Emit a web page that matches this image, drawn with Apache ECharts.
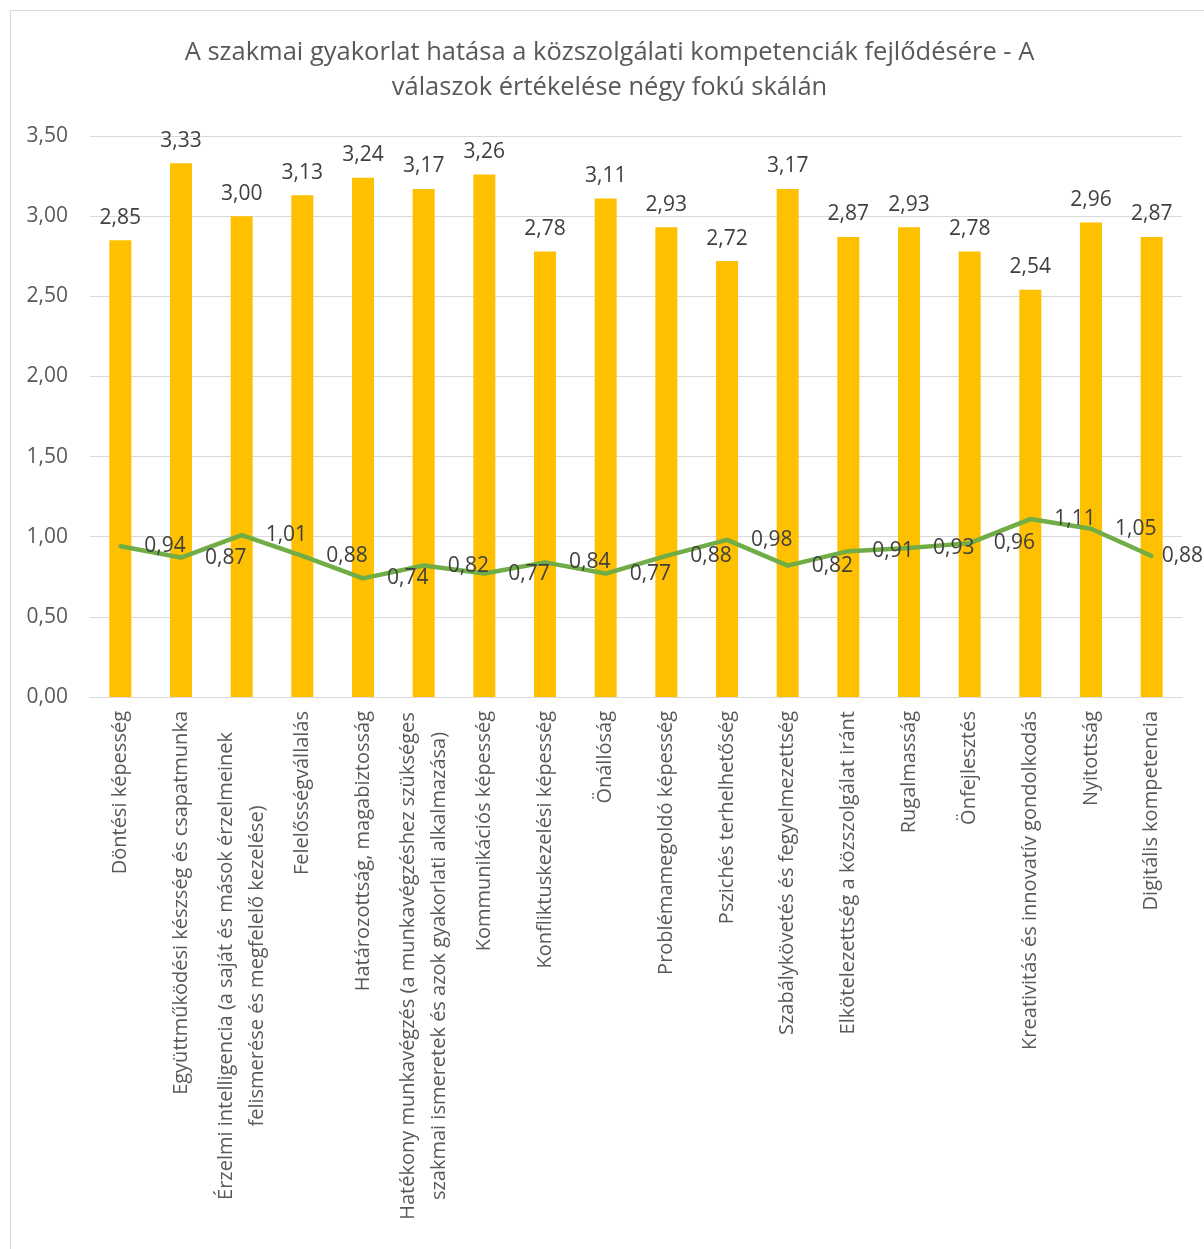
<!DOCTYPE html>
<html><head><meta charset="utf-8">
<script src="https://cdn.jsdelivr.net/npm/echarts@6/dist/echarts.min.js"></script>
<style>html,body{margin:0;padding:0;background:#fff}#c{width:1204px;height:1249px}</style>
</head><body><div id="c"></div>
<script>
const titleText = 'A szakmai gyakorlat hatása a közszolgálati kompetenciák fejlődésére - A\nválaszok értékelése négy fokú skálán';
const categories = [
  'Döntési képesség',
  'Együttműködési készség és csapatmunka',
  'Érzelmi intelligencia (a saját és mások érzelmeinek\nfelismerése és megfelelő kezelése)',
  'Felelősségvállalás',
  'Határozottság, magabiztosság',
  'Hatékony munkavégzés (a munkavégzéshez szükséges\nszakmai ismeretek és azok gyakorlati alkalmazása)',
  'Kommunikációs képesség',
  'Konfliktuskezelési képesség',
  'Önállóság',
  'Problémamegoldó képesség',
  'Pszichés terhelhetőség',
  'Szabálykövetés és fegyelmezettség',
  'Elkötelezettség a közszolgálat iránt',
  'Rugalmasság',
  'Önfejlesztés',
  'Kreativitás és innovatív gondolkodás',
  'Nyitottság',
  'Digitális kompetencia'
];
const barValues = [2.85, 3.33, 3.00, 3.13, 3.24, 3.17, 3.26, 2.78, 3.11, 2.93, 2.72, 3.17, 2.87, 2.93, 2.78, 2.54, 2.96, 2.87];
const lineValues = [0.94, 0.87, 1.01, 0.88, 0.74, 0.82, 0.77, 0.84, 0.77, 0.88, 0.98, 0.82, 0.91, 0.93, 0.96, 1.11, 1.05, 0.88];
const yTicks = {min: 0, max: 3.5, interval: 0.5};

const FONT = '"Open Sans", sans-serif';
const CAT_SIZE = 20;
const NUM_SIZE = 21;
const fmt = v => Number(v).toFixed(2).replace('.', ',');

const mctx = document.createElement('canvas').getContext('2d');
mctx.font = CAT_SIZE + 'px "Open Sans"';
const multiLines = categories.filter(c => c.includes('\n')).flatMap(c => c.split('\n'));
const longest = Math.ceil(Math.max(...multiLines.map(l => mctx.measureText(l).width))) + 2;
function catFormatter(v) {
  if (v.indexOf('\n') < 0) return v;
  return v.split('\n').map(l => '{c|' + l + '}').join('\n');
}

const lineData = lineValues.map((v, i) => i === lineValues.length - 1 ? {value: v, label: {distance: 8}} : v);

const chart = echarts.init(document.getElementById('c'), null, {renderer: 'canvas'});
chart.setOption({
  animation: false,
  backgroundColor: '#fff',
  textStyle: {fontFamily: FONT},
  graphic: [
    {type: 'rect', shape: {x: 10.5, y: 10.5, width: 1300, height: 1300}, style: {fill: 'none', stroke: '#d9d9d9', lineWidth: 1}, silent: true},
    {type: 'text', x: 609.5, y: 35, silent: true,
      style: {text: titleText, fill: '#595959', fontFamily: FONT, fontSize: 25.5, lineHeight: 35, textAlign: 'center', textVerticalAlign: 'top', align: 'center', verticalAlign: 'top'}}
  ],
  grid: {left: 90, right: 22, top: 136, bottom: 552, containLabel: false},
  xAxis: {
    type: 'category', data: categories,
    axisTick: {show: false},
    axisLine: {lineStyle: {color: '#d9d9d9', width: 1}},
    axisLabel: {
      interval: 0, rotate: 90, margin: 14, color: '#595959',
      fontFamily: FONT, fontSize: CAT_SIZE, lineHeight: 31,
      formatter: catFormatter,
      rich: {c: {width: longest, align: 'center', fontFamily: FONT, fontSize: CAT_SIZE, color: '#595959', lineHeight: 31}}
    }
  },
  yAxis: {
    type: 'value', min: yTicks.min, max: yTicks.max, interval: yTicks.interval,
    axisLine: {show: false}, axisTick: {show: false},
    splitLine: {lineStyle: {color: '#d9d9d9', width: 1}},
    axisLabel: {formatter: fmt, color: '#595959', fontFamily: FONT, fontSize: NUM_SIZE, margin: 22}
  },
  series: [
    {
      type: 'bar', data: barValues, barWidth: 22, z: 2,
      itemStyle: {color: '#FFC000'},
      label: {show: true, position: 'top', distance: 12, formatter: p => fmt(p.value), color: '#404040', fontFamily: FONT, fontSize: NUM_SIZE}
    },
    {
      type: 'line', data: lineData, symbol: 'circle', symbolSize: 4, showSymbol: true, z: 3,
      itemStyle: {color: '#70AD47'},
      lineStyle: {color: '#70AD47', width: 4.5},
      label: {show: true, position: 'right', distance: 22, formatter: p => fmt(p.value), color: '#404040', fontFamily: FONT, fontSize: NUM_SIZE}
    }
  ]
});
</script></body></html>
